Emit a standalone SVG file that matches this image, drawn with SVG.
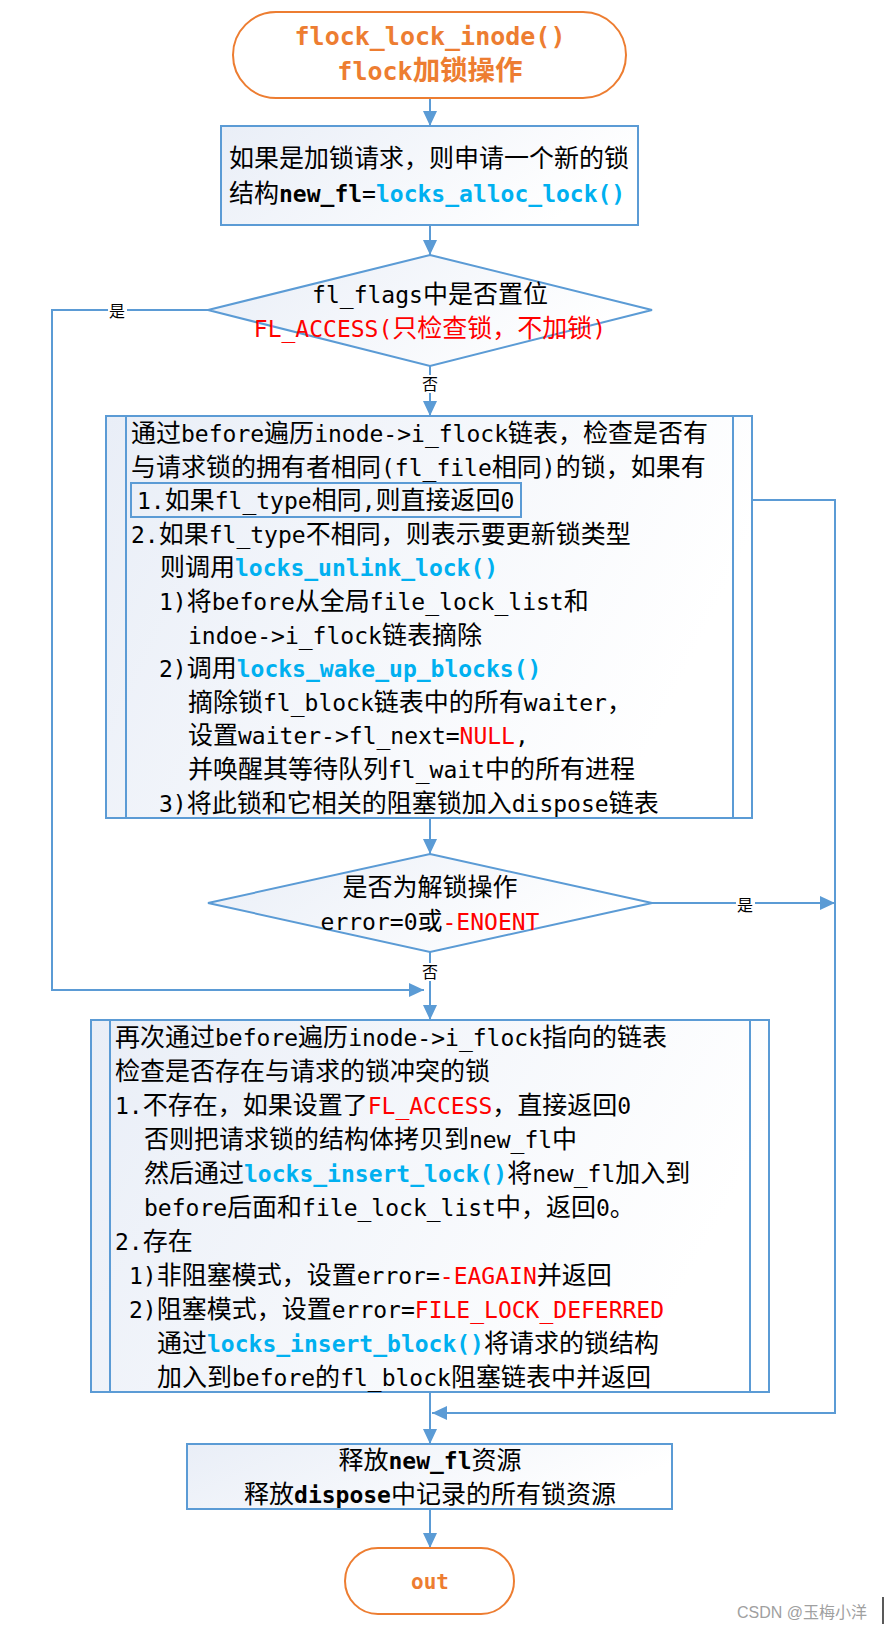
<svg xmlns="http://www.w3.org/2000/svg" width="888" height="1630" viewBox="0 0 888 1630">
<style>
text{font-family:"Noto Sans CJK SC",sans-serif;font-size:25px;fill:#000}
.m{font-family:"DejaVu Sans Mono","Liberation Mono",monospace;font-size:23px}
.f{font-family:"DejaVu Sans Mono","Liberation Mono",monospace;font-size:23px;font-weight:bold;fill:#00B0F0}
.b{font-weight:bold}
.r{fill:#FF0000}
.box{fill:url(#g);stroke:#5B9BD5;stroke-width:2}
.term{fill:#fff;stroke:#ED7D31;stroke-width:2}
.ot{fill:#ED7D31;font-weight:bold}
.ln{fill:none;stroke:#5B9BD5;stroke-width:2}
.arr{fill:none;stroke:#5B9BD5;stroke-width:2;marker-end:url(#ah)}
.lbl{font-size:16px}
.bg{fill:#fff}
</style>
<defs>
<linearGradient id="g" x1="0" y1="0" x2="1" y2="0.3">
<stop offset="0" stop-color="#E9EEF7"/>
<stop offset="1" stop-color="#FFFFFF"/>
</linearGradient>
<marker id="ah" markerUnits="userSpaceOnUse" markerWidth="16" markerHeight="14" refX="15" refY="7" orient="auto">
<path d="M0,0 L15,7 L0,14 z" fill="#5B9BD5"/>
</marker>
</defs>

<g id="connectors">
<line class="arr" x1="430" y1="98" x2="430" y2="126"/>
<line class="arr" x1="430" y1="225" x2="430" y2="255"/>
<line class="arr" x1="430" y1="366" x2="430" y2="416"/>
<polyline class="arr" points="208,310 52,310 52,990 424,990"/>
<polyline class="arr" points="521,500 835,500 835,1413 432,1413"/>
<line class="arr" x1="430" y1="818" x2="430" y2="854"/>
<line class="arr" x1="652" y1="903" x2="835" y2="903"/>
<line class="arr" x1="430" y1="952" x2="430" y2="1020"/>
<line class="arr" x1="430" y1="1392" x2="430" y2="1444"/>
<line class="arr" x1="430" y1="1509" x2="430" y2="1548"/>
<rect class="bg" x="108" y="302" width="19" height="18"/>
<text class="lbl" x="117" y="317" text-anchor="middle">是</text>
<rect class="bg" x="421" y="375" width="18" height="18"/>
<text class="lbl" x="430" y="390" text-anchor="middle">否</text>
<rect class="bg" x="736" y="896" width="19" height="18"/>
<text class="lbl" x="745" y="911" text-anchor="middle">是</text>
<rect class="bg" x="421" y="963" width="18" height="18"/>
<text class="lbl" x="430" y="978" text-anchor="middle">否</text>
</g>

<g id="start">
<rect class="term" x="233" y="12" width="393" height="86" rx="43"/>
<text x="430" y="45" text-anchor="middle" class="ot"><tspan class="m" style="font-size:25px">flock_lock_inode()</tspan></text>
<text x="430" y="80" text-anchor="middle" class="ot" style="font-size:27.5px"><tspan class="m" style="font-size:25px">flock</tspan>加锁操作</text>
</g>

<g id="alloc">
<rect class="box" x="221" y="126" width="417" height="99"/>
<text x="229" y="167">如果是加锁请求，则申请一个新的锁</text>
<text x="229" y="202">结构<tspan class="m b">new_fl</tspan><tspan class="m">=</tspan><tspan class="f">locks_alloc_lock()</tspan></text>
</g>

<g id="check-access">
<polygon class="box" points="430,255 652,310 430,366 208,310"/>
<text x="430" y="302.5" text-anchor="middle"><tspan class="m">fl_flags</tspan>中是否置位</text>
<text x="430" y="336.5" text-anchor="middle" class="r"><tspan class="m r">FL_ACCESS(</tspan>只检查锁，不加锁<tspan class="m r">)</tspan></text>
</g>

<g id="first-scan">
<rect class="box" x="106" y="416" width="646" height="402"/>
<line class="ln" x1="126" y1="416" x2="126" y2="818"/>
<line class="ln" x1="733" y1="416" x2="733" y2="818"/>
<rect x="131" y="483" width="390" height="34" fill="none" stroke="#5B9BD5" stroke-width="2"/>
<text x="131" y="442">通过<tspan class="m">before</tspan>遍历<tspan class="m">inode-&gt;i_flock</tspan>链表，检查是否有</text>
<text x="131" y="475.6">与请求锁的拥有者相同<tspan class="m">(fl_file</tspan>相同<tspan class="m">)</tspan>的锁，如果有</text>
<text x="137" y="509.2"><tspan class="m">1.</tspan>如果<tspan class="m">fl_type</tspan>相同<tspan class="m">,</tspan>则直接返回<tspan class="m">0</tspan></text>
<text x="131" y="542.8"><tspan class="m">2.</tspan>如果<tspan class="m">fl_type</tspan>不相同，则表示要更新锁类型</text>
<text x="160" y="576.4">则调用<tspan class="f">locks_unlink_lock()</tspan></text>
<text x="159" y="610"><tspan class="m">1)</tspan>将<tspan class="m">before</tspan>从全局<tspan class="m">file_lock_list</tspan>和</text>
<text x="188" y="643.6"><tspan class="m">indoe-&gt;i_flock</tspan>链表摘除</text>
<text x="159" y="677.2"><tspan class="m">2)</tspan>调用<tspan class="f">locks_wake_up_blocks()</tspan></text>
<text x="188" y="710.8">摘除锁<tspan class="m">fl_block</tspan>链表中的所有<tspan class="m">waiter</tspan>，</text>
<text x="188" y="744.4">设置<tspan class="m">waiter-&gt;fl_next=</tspan><tspan class="m r">NULL</tspan><tspan class="m">,</tspan></text>
<text x="188" y="778">并唤醒其等待队列<tspan class="m">fl_wait</tspan>中的所有进程</text>
<text x="159" y="811.6"><tspan class="m">3)</tspan>将此锁和它相关的阻塞锁加入<tspan class="m">dispose</tspan>链表</text>
</g>

<g id="check-unlock">
<polygon class="box" points="430,854 652,903 430,952 208,903"/>
<text x="430" y="895.5" text-anchor="middle">是否为解锁操作</text>
<text x="430" y="929.5" text-anchor="middle"><tspan class="m">error=0</tspan>或<tspan class="m r">-ENOENT</tspan></text>
</g>

<g id="second-scan">
<rect class="box" x="91" y="1020" width="678" height="372"/>
<line class="ln" x1="110" y1="1020" x2="110" y2="1392"/>
<line class="ln" x1="750" y1="1020" x2="750" y2="1392"/>
<text x="115" y="1046">再次通过<tspan class="m">before</tspan>遍历<tspan class="m">inode-&gt;i_flock</tspan>指向的链表</text>
<text x="115" y="1080">检查是否存在与请求的锁冲突的锁</text>
<text x="115" y="1114"><tspan class="m">1.</tspan>不存在，如果设置了<tspan class="m r">FL_ACCESS</tspan>，直接返回<tspan class="m">0</tspan></text>
<text x="144" y="1148">否则把请求锁的结构体拷贝到<tspan class="m">new_fl</tspan>中</text>
<text x="144" y="1182">然后通过<tspan class="f">locks_insert_lock()</tspan>将<tspan class="m">new_fl</tspan>加入到</text>
<text x="144" y="1216"><tspan class="m">before</tspan>后面和<tspan class="m">file_lock_list</tspan>中，返回<tspan class="m">0</tspan>。</text>
<text x="115" y="1250"><tspan class="m">2.</tspan>存在</text>
<text x="129" y="1284"><tspan class="m">1)</tspan>非阻塞模式，设置<tspan class="m">error=</tspan><tspan class="m r">-EAGAIN</tspan>并返回</text>
<text x="129" y="1318"><tspan class="m">2)</tspan>阻塞模式，设置<tspan class="m">error=</tspan><tspan class="m r">FILE_LOCK_DEFERRED</tspan></text>
<text x="157" y="1352">通过<tspan class="f">locks_insert_block()</tspan>将请求的锁结构</text>
<text x="157" y="1386">加入到<tspan class="m">before</tspan>的<tspan class="m">fl_block</tspan>阻塞链表中并返回</text>
</g>

<g id="release">
<rect class="box" x="187" y="1444" width="485" height="65"/>
<text x="430" y="1468.5" text-anchor="middle">释放<tspan class="m b">new_fl</tspan>资源</text>
<text x="430" y="1502.5" text-anchor="middle">释放<tspan class="m b">dispose</tspan>中记录的所有锁资源</text>
</g>

<g id="out">
<rect class="term" x="345" y="1548" width="169" height="66" rx="33"/>
<text x="430" y="1589" text-anchor="middle" class="ot"><tspan class="m" style="font-size:21px">out</tspan></text>
</g>

<g id="watermark">
<text x="737" y="1618" style="font-family:'Liberation Sans','Noto Sans CJK SC',sans-serif;font-size:16px;fill:#A0A0A0">CSDN @玉梅小洋</text>
<line x1="883" y1="1597" x2="883" y2="1624" stroke="#222" stroke-width="1.5"/>
</g>
</svg>
